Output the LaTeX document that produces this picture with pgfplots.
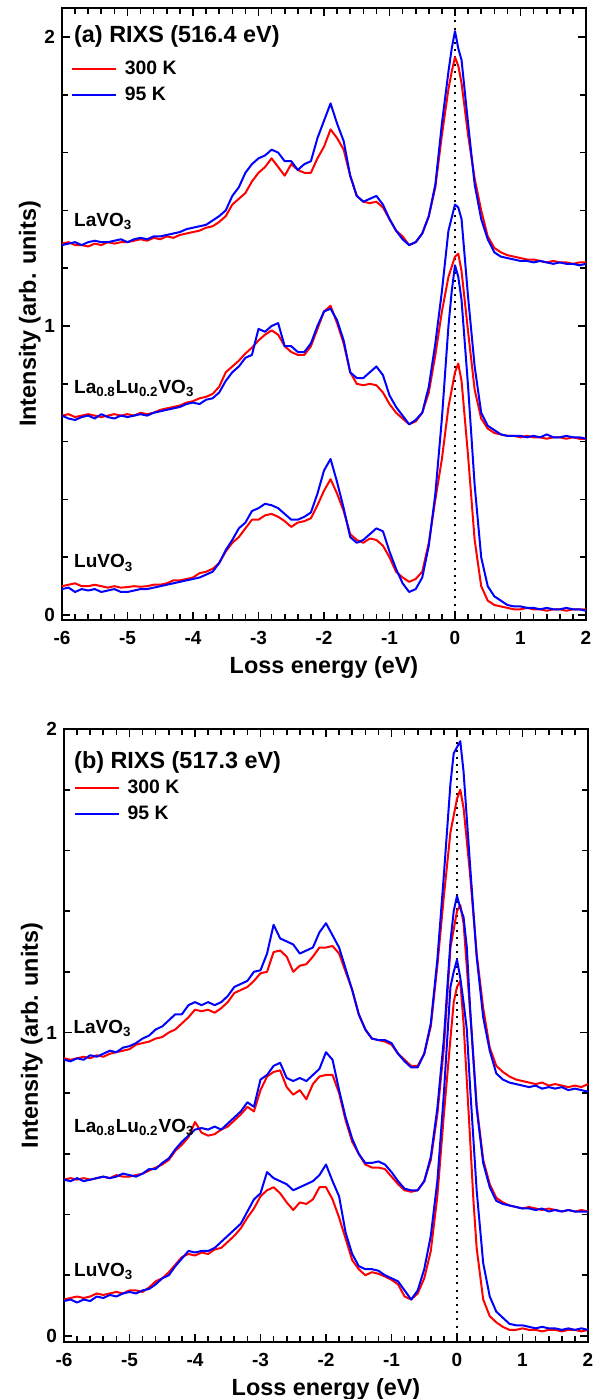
\documentclass[border=0pt]{standalone}
\usepackage{pgfplots}
\pgfplotsset{compat=1.18}
\usepackage{fontspec}
\setmainfont{Liberation Sans}
\newcommand\tkf{\fontsize{9.5}{11}\selectfont\bfseries}
\newcommand\labf{\fontsize{11.7}{14}\selectfont\bfseries}
\newcommand\lgf{\fontsize{9.7}{11}\selectfont\bfseries}
\newcommand\smpf{\fontsize{9.5}{11}\selectfont\bfseries}
\newcommand\subs[1]{\textsubscript{#1}}

\pgfplotsset{
  rixs/.style={
    scale only axis, width=262pt,
    xmin=-6, xmax=2, xtick={-6,-5,...,2}, minor x tick num=4,
    ytick={0,1,2}, minor y tick num=4,
    major tick length=4pt, minor tick length=2.8pt,
    tick style={line width=0.8pt, black},
    axis line style={line width=1pt},
    xlabel={Loss energy (eV)}, ylabel={Intensity (arb. units)},
    label style={font=\labf},
    ylabel shift=-5pt,
    ticklabel style={font=\tkf},
    xticklabel={\pgfmathprintnumber[assume math mode=true]{\tick}},
    yticklabel={\pgfmathprintnumber[assume math mode=true]{\tick}},
    xlabel style={yshift=1pt},
    xticklabel style={yshift=-2pt},
    legend style={draw=none, fill=none, font=\lgf, inner sep=0pt,
      row sep=2.5pt, nodes={inner sep=1pt, anchor=west},
      /tikz/every odd column/.append style={column sep=3pt}},
    legend cell align=left,
    legend image code/.code={\draw[##1, line width=1pt] (0pt,0pt) -- (22pt,0pt);},
  },
  rr/.style={red, line width=1pt, line join=round},
  bb/.style={blue, line width=1pt, line join=round},
  dotl/.style={black, line width=1pt, dash pattern=on 1pt off 2.6pt, forget plot},
}

\begin{document}
\begin{tikzpicture}
% ---------------- panel (a)
\begin{axis}[rixs, at={(0pt,0pt)}, anchor=north west, height=306pt,
  ymin=-0.017, ymax=2.10,
  legend style={at={(axis cs:-5.87,1.925)}, anchor=north west}]
\addplot[dotl] coordinates {(0,-0.017) (0,2.10)};
\addplot[rr] table {
-6.0 1.285
-5.9 1.29
-5.8 1.28
-5.7 1.28
-5.6 1.275
-5.5 1.285
-5.4 1.28
-5.3 1.29
-5.2 1.285
-5.1 1.29
-5.0 1.29
-4.9 1.295
-4.8 1.30
-4.7 1.295
-4.6 1.305
-4.5 1.30
-4.4 1.31
-4.3 1.305
-4.2 1.315
-4.1 1.32
-4.0 1.325
-3.9 1.33
-3.8 1.34
-3.7 1.345
-3.6 1.36
-3.5 1.38
-3.4 1.42
-3.3 1.44
-3.2 1.46
-3.1 1.50
-3.0 1.53
-2.9 1.55
-2.8 1.58
-2.7 1.55
-2.6 1.52
-2.5 1.56
-2.4 1.54
-2.3 1.53
-2.2 1.53
-2.1 1.58
-2.0 1.62
-1.9 1.68
-1.8 1.65
-1.7 1.61
-1.6 1.52
-1.5 1.45
-1.4 1.43
-1.3 1.425
-1.2 1.43
-1.1 1.41
-1.0 1.37
-0.9 1.33
-0.8 1.31
-0.7 1.28
-0.6 1.29
-0.5 1.32
-0.4 1.38
-0.3 1.48
-0.2 1.66
-0.1 1.82
-0.05 1.88
0.0 1.93
0.05 1.90
0.1 1.84
0.2 1.66
0.3 1.51
0.4 1.40
0.5 1.31
0.6 1.27
0.7 1.255
0.8 1.245
0.9 1.24
1.0 1.235
1.1 1.23
1.2 1.23
1.3 1.225
1.4 1.22
1.5 1.225
1.6 1.22
1.7 1.22
1.8 1.215
1.9 1.22
2.0 1.22
};
\addlegendentry{300 K}
\addplot[bb] table {
-6.0 1.28
-5.9 1.285
-5.8 1.29
-5.7 1.28
-5.6 1.29
-5.5 1.295
-5.4 1.29
-5.3 1.29
-5.2 1.295
-5.1 1.30
-5.0 1.29
-4.9 1.30
-4.8 1.305
-4.7 1.30
-4.6 1.31
-4.5 1.31
-4.4 1.315
-4.3 1.32
-4.2 1.325
-4.1 1.335
-4.0 1.34
-3.9 1.345
-3.8 1.35
-3.7 1.365
-3.6 1.38
-3.5 1.40
-3.4 1.45
-3.3 1.48
-3.2 1.53
-3.1 1.56
-3.0 1.58
-2.9 1.59
-2.8 1.61
-2.7 1.60
-2.6 1.57
-2.5 1.57
-2.4 1.54
-2.3 1.56
-2.2 1.57
-2.1 1.65
-2.0 1.71
-1.9 1.77
-1.8 1.70
-1.7 1.64
-1.6 1.52
-1.5 1.45
-1.4 1.43
-1.3 1.44
-1.2 1.45
-1.1 1.42
-1.0 1.37
-0.9 1.33
-0.8 1.30
-0.7 1.28
-0.6 1.29
-0.5 1.32
-0.4 1.38
-0.3 1.49
-0.2 1.70
-0.1 1.88
-0.05 1.96
0.0 2.02
0.05 1.96
0.1 1.92
0.2 1.70
0.3 1.49
0.4 1.37
0.5 1.30
0.6 1.255
0.7 1.24
0.8 1.235
0.9 1.23
1.0 1.225
1.1 1.225
1.2 1.22
1.3 1.225
1.4 1.22
1.5 1.215
1.6 1.22
1.7 1.215
1.8 1.215
1.9 1.21
2.0 1.215
};
\addlegendentry{95 K}
% La0.8Lu0.2VO3
\addplot[rr, forget plot] table {
-6.0 0.69
-5.9 0.695
-5.8 0.685
-5.7 0.69
-5.6 0.695
-5.5 0.69
-5.4 0.685
-5.3 0.69
-5.2 0.695
-5.1 0.69
-5.0 0.695
-4.9 0.69
-4.8 0.70
-4.7 0.695
-4.6 0.70
-4.5 0.71
-4.4 0.715
-4.3 0.72
-4.2 0.725
-4.1 0.735
-4.0 0.74
-3.9 0.75
-3.8 0.755
-3.7 0.765
-3.6 0.79
-3.5 0.84
-3.4 0.86
-3.3 0.88
-3.2 0.905
-3.1 0.925
-3.0 0.95
-2.9 0.97
-2.8 0.985
-2.7 0.97
-2.6 0.93
-2.5 0.91
-2.4 0.90
-2.3 0.90
-2.2 0.93
-2.1 0.99
-2.0 1.05
-1.9 1.07
-1.8 1.01
-1.7 0.94
-1.6 0.84
-1.5 0.80
-1.4 0.795
-1.3 0.80
-1.2 0.795
-1.1 0.77
-1.0 0.73
-0.9 0.70
-0.8 0.68
-0.7 0.66
-0.6 0.67
-0.5 0.70
-0.4 0.77
-0.3 0.90
-0.2 1.05
-0.1 1.17
0.0 1.24
0.05 1.25
0.1 1.19
0.2 0.98
0.3 0.78
0.4 0.68
0.5 0.645
0.6 0.63
0.7 0.625
0.8 0.62
0.9 0.62
1.0 0.615
1.1 0.62
1.2 0.615
1.3 0.615
1.4 0.61
1.5 0.615
1.6 0.615
1.7 0.61
1.8 0.615
1.9 0.61
2.0 0.61
};
\addplot[bb, forget plot] table {
-6.0 0.69
-5.9 0.68
-5.8 0.675
-5.7 0.685
-5.6 0.69
-5.5 0.68
-5.4 0.695
-5.3 0.685
-5.2 0.68
-5.1 0.69
-5.0 0.685
-4.9 0.69
-4.8 0.695
-4.7 0.69
-4.6 0.70
-4.5 0.705
-4.4 0.71
-4.3 0.715
-4.2 0.72
-4.1 0.73
-4.0 0.735
-3.9 0.73
-3.8 0.745
-3.7 0.75
-3.6 0.77
-3.5 0.81
-3.4 0.84
-3.3 0.86
-3.2 0.89
-3.1 0.90
-3.0 0.99
-2.9 0.98
-2.8 1.00
-2.7 1.01
-2.6 0.93
-2.5 0.93
-2.4 0.91
-2.3 0.91
-2.2 0.94
-2.1 1.00
-2.0 1.05
-1.9 1.06
-1.8 1.02
-1.7 0.95
-1.6 0.84
-1.5 0.82
-1.4 0.82
-1.3 0.84
-1.2 0.86
-1.1 0.83
-1.0 0.76
-0.9 0.72
-0.8 0.69
-0.7 0.66
-0.6 0.675
-0.5 0.70
-0.4 0.79
-0.3 0.94
-0.2 1.12
-0.1 1.33
0.0 1.42
0.05 1.41
0.1 1.37
0.2 1.10
0.3 0.86
0.4 0.70
0.5 0.655
0.6 0.64
0.7 0.625
0.8 0.62
0.9 0.62
1.0 0.62
1.1 0.615
1.2 0.62
1.3 0.615
1.4 0.625
1.5 0.615
1.6 0.615
1.7 0.62
1.8 0.615
1.9 0.615
2.0 0.61
};
% LuVO3
\addplot[rr, forget plot] table {
-6.0 0.10
-5.9 0.105
-5.8 0.11
-5.7 0.10
-5.6 0.10
-5.5 0.105
-5.4 0.10
-5.3 0.095
-5.2 0.10
-5.1 0.095
-5.0 0.097
-4.9 0.10
-4.8 0.098
-4.7 0.10
-4.6 0.105
-4.5 0.105
-4.4 0.11
-4.3 0.12
-4.2 0.12
-4.1 0.125
-4.0 0.13
-3.9 0.145
-3.8 0.15
-3.7 0.16
-3.6 0.18
-3.5 0.22
-3.4 0.25
-3.3 0.27
-3.2 0.30
-3.1 0.33
-3.0 0.33
-2.9 0.345
-2.8 0.35
-2.7 0.34
-2.6 0.325
-2.5 0.305
-2.4 0.32
-2.3 0.325
-2.2 0.335
-2.1 0.38
-2.0 0.43
-1.9 0.47
-1.8 0.42
-1.7 0.36
-1.6 0.28
-1.5 0.26
-1.4 0.25
-1.3 0.265
-1.2 0.26
-1.1 0.24
-1.0 0.20
-0.9 0.15
-0.8 0.13
-0.7 0.115
-0.6 0.125
-0.5 0.15
-0.4 0.25
-0.3 0.40
-0.2 0.54
-0.1 0.72
0.0 0.84
0.05 0.87
0.1 0.81
0.2 0.55
0.3 0.26
0.4 0.10
0.5 0.05
0.6 0.035
0.7 0.03
0.8 0.025
0.9 0.02
1.0 0.02
1.1 0.025
1.2 0.02
1.3 0.02
1.4 0.015
1.5 0.02
1.6 0.02
1.7 0.015
1.8 0.02
1.9 0.02
2.0 0.02
};
\addplot[bb, forget plot] table {
-6.0 0.09
-5.9 0.095
-5.8 0.08
-5.7 0.09
-5.6 0.085
-5.5 0.09
-5.4 0.08
-5.3 0.085
-5.2 0.09
-5.1 0.08
-5.0 0.08
-4.9 0.085
-4.8 0.09
-4.7 0.09
-4.6 0.095
-4.5 0.10
-4.4 0.105
-4.3 0.11
-4.2 0.115
-4.1 0.12
-4.0 0.125
-3.9 0.13
-3.8 0.14
-3.7 0.15
-3.6 0.18
-3.5 0.225
-3.4 0.26
-3.3 0.30
-3.2 0.32
-3.1 0.36
-3.0 0.37
-2.9 0.385
-2.8 0.38
-2.7 0.37
-2.6 0.35
-2.5 0.33
-2.4 0.33
-2.3 0.34
-2.2 0.355
-2.1 0.42
-2.0 0.50
-1.9 0.54
-1.8 0.46
-1.7 0.37
-1.6 0.27
-1.5 0.25
-1.4 0.26
-1.3 0.28
-1.2 0.30
-1.1 0.29
-1.0 0.22
-0.9 0.16
-0.8 0.11
-0.7 0.08
-0.6 0.09
-0.5 0.13
-0.4 0.24
-0.3 0.42
-0.2 0.68
-0.1 1.00
-0.05 1.12
0.0 1.21
0.05 1.17
0.1 1.09
0.2 0.79
0.3 0.45
0.4 0.20
0.5 0.10
0.6 0.065
0.7 0.05
0.8 0.035
0.9 0.03
1.0 0.03
1.1 0.025
1.2 0.025
1.3 0.02
1.4 0.025
1.5 0.02
1.6 0.02
1.7 0.025
1.8 0.02
1.9 0.02
2.0 0.015
};
\node[anchor=west, font=\labf, inner sep=0pt] at (axis cs:-5.82,2.0) {(a) RIXS (516.4 eV)};
\node[anchor=base west, font=\smpf, inner sep=0pt] at (axis cs:-5.82,1.343) {LaVO\subs{3}};
\node[anchor=base west, font=\smpf, inner sep=0pt] at (axis cs:-5.82,0.768) {La\subs{0.8}Lu\subs{0.2}VO\subs{3}};
\node[anchor=base west, font=\smpf, inner sep=0pt] at (axis cs:-5.82,0.163) {LuVO\subs{3}};
\end{axis}

% ---------------- panel (b)
\begin{axis}[rixs, at={(1pt,-360.5pt)}, anchor=north west, height=306.5pt,
  ymin=-0.02, ymax=2.0,
  legend style={at={(axis cs:-5.86,1.84)}, anchor=north west}]
\addplot[dotl] coordinates {(0,-0.02) (0,2.0)};
\addplot[rr] table {
-6.0 0.915
-5.9 0.91
-5.8 0.915
-5.7 0.92
-5.6 0.915
-5.5 0.925
-5.4 0.92
-5.3 0.93
-5.2 0.935
-5.1 0.94
-5.0 0.945
-4.9 0.96
-4.8 0.965
-4.7 0.97
-4.6 0.98
-4.5 0.985
-4.4 1.00
-4.3 1.01
-4.2 1.03
-4.1 1.05
-4.0 1.075
-3.9 1.07
-3.8 1.075
-3.7 1.065
-3.6 1.08
-3.5 1.10
-3.4 1.13
-3.3 1.14
-3.2 1.15
-3.1 1.17
-3.0 1.195
-2.9 1.20
-2.8 1.265
-2.7 1.27
-2.6 1.25
-2.5 1.20
-2.4 1.22
-2.3 1.225
-2.2 1.25
-2.1 1.28
-2.0 1.28
-1.9 1.285
-1.8 1.26
-1.7 1.20
-1.6 1.14
-1.5 1.06
-1.4 1.01
-1.3 0.98
-1.2 0.975
-1.1 0.97
-1.0 0.96
-0.9 0.93
-0.8 0.91
-0.7 0.89
-0.6 0.89
-0.5 0.93
-0.4 1.02
-0.3 1.22
-0.2 1.45
-0.1 1.66
0.0 1.77
0.05 1.80
0.1 1.74
0.2 1.52
0.3 1.26
0.4 1.08
0.5 0.95
0.6 0.89
0.7 0.87
0.8 0.855
0.9 0.845
1.0 0.84
1.1 0.835
1.2 0.83
1.3 0.835
1.4 0.825
1.5 0.83
1.6 0.825
1.7 0.82
1.8 0.825
1.9 0.82
2.0 0.83
};
\addlegendentry{300 K}
\addplot[bb] table {
-6.0 0.91
-5.9 0.905
-5.8 0.915
-5.7 0.91
-5.6 0.925
-5.5 0.92
-5.4 0.93
-5.3 0.94
-5.2 0.935
-5.1 0.95
-5.0 0.955
-4.9 0.965
-4.8 0.98
-4.7 0.99
-4.6 1.01
-4.5 1.02
-4.4 1.04
-4.3 1.06
-4.2 1.06
-4.1 1.09
-4.0 1.10
-3.9 1.09
-3.8 1.10
-3.7 1.09
-3.6 1.10
-3.5 1.12
-3.4 1.15
-3.3 1.16
-3.2 1.17
-3.1 1.20
-3.0 1.205
-2.9 1.26
-2.8 1.355
-2.7 1.31
-2.6 1.30
-2.5 1.29
-2.4 1.26
-2.3 1.27
-2.2 1.28
-2.1 1.33
-2.0 1.36
-1.9 1.32
-1.8 1.28
-1.7 1.21
-1.6 1.14
-1.5 1.06
-1.4 1.01
-1.3 0.98
-1.2 0.975
-1.1 0.975
-1.0 0.965
-0.9 0.93
-0.8 0.905
-0.7 0.885
-0.6 0.885
-0.5 0.93
-0.4 1.03
-0.3 1.24
-0.2 1.52
-0.1 1.82
-0.05 1.92
0.0 1.94
0.05 1.96
0.1 1.86
0.2 1.55
0.3 1.25
0.4 1.05
0.5 0.94
0.6 0.865
0.7 0.845
0.8 0.835
0.9 0.83
1.0 0.825
1.1 0.82
1.2 0.825
1.3 0.815
1.4 0.82
1.5 0.815
1.6 0.82
1.7 0.81
1.8 0.815
1.9 0.81
2.0 0.805
};
\addlegendentry{95 K}
% La0.8Lu0.2VO3
\addplot[rr, forget plot] table {
-6.0 0.515
-5.9 0.52
-5.8 0.515
-5.7 0.52
-5.6 0.515
-5.5 0.52
-5.4 0.525
-5.3 0.52
-5.2 0.53
-5.1 0.525
-5.0 0.525
-4.9 0.53
-4.8 0.535
-4.7 0.545
-4.6 0.555
-4.5 0.565
-4.4 0.58
-4.3 0.61
-4.2 0.63
-4.1 0.655
-4.0 0.705
-3.9 0.67
-3.8 0.66
-3.7 0.665
-3.6 0.68
-3.5 0.69
-3.4 0.71
-3.3 0.73
-3.2 0.755
-3.1 0.74
-3.0 0.81
-2.9 0.855
-2.8 0.87
-2.7 0.875
-2.6 0.82
-2.5 0.795
-2.4 0.81
-2.3 0.78
-2.2 0.83
-2.1 0.855
-2.0 0.86
-1.9 0.86
-1.8 0.80
-1.7 0.71
-1.6 0.64
-1.5 0.60
-1.4 0.565
-1.3 0.555
-1.2 0.555
-1.1 0.55
-1.0 0.525
-0.9 0.50
-0.8 0.48
-0.7 0.475
-0.6 0.48
-0.5 0.51
-0.4 0.58
-0.3 0.73
-0.2 0.95
-0.1 1.28
0.0 1.40
0.05 1.42
0.1 1.36
0.2 1.07
0.3 0.76
0.4 0.58
0.5 0.50
0.6 0.455
0.7 0.44
0.8 0.43
0.9 0.425
1.0 0.42
1.1 0.425
1.2 0.42
1.3 0.415
1.4 0.42
1.5 0.415
1.6 0.41
1.7 0.415
1.8 0.41
1.9 0.415
2.0 0.41
};
\addplot[bb, forget plot] table {
-6.0 0.515
-5.9 0.51
-5.8 0.52
-5.7 0.51
-5.6 0.515
-5.5 0.52
-5.4 0.525
-5.3 0.52
-5.2 0.525
-5.1 0.535
-5.0 0.53
-4.9 0.525
-4.8 0.535
-4.7 0.55
-4.6 0.55
-4.5 0.57
-4.4 0.585
-4.3 0.615
-4.2 0.64
-4.1 0.66
-4.0 0.68
-3.9 0.685
-3.8 0.68
-3.7 0.69
-3.6 0.68
-3.5 0.70
-3.4 0.72
-3.3 0.74
-3.2 0.77
-3.1 0.755
-3.0 0.845
-2.9 0.86
-2.8 0.89
-2.7 0.90
-2.6 0.85
-2.5 0.84
-2.4 0.85
-2.3 0.84
-2.2 0.86
-2.1 0.88
-2.0 0.935
-1.9 0.91
-1.8 0.81
-1.7 0.72
-1.6 0.65
-1.5 0.60
-1.4 0.57
-1.3 0.57
-1.2 0.575
-1.1 0.565
-1.0 0.54
-0.9 0.51
-0.8 0.485
-0.7 0.48
-0.6 0.48
-0.5 0.51
-0.4 0.59
-0.3 0.75
-0.2 0.98
-0.1 1.30
-0.05 1.40
0.0 1.45
0.05 1.41
0.1 1.38
0.15 1.28
0.2 1.08
0.3 0.75
0.4 0.57
0.5 0.49
0.6 0.445
0.7 0.435
0.8 0.43
0.9 0.425
1.0 0.42
1.1 0.42
1.2 0.415
1.3 0.42
1.4 0.41
1.5 0.415
1.6 0.41
1.7 0.415
1.8 0.41
1.9 0.41
2.0 0.41
};
% LuVO3
\addplot[rr, forget plot] table {
-6.0 0.12
-5.9 0.125
-5.8 0.13
-5.7 0.125
-5.6 0.13
-5.5 0.14
-5.4 0.135
-5.3 0.14
-5.2 0.145
-5.1 0.14
-5.0 0.15
-4.9 0.15
-4.8 0.145
-4.7 0.16
-4.6 0.18
-4.5 0.19
-4.4 0.21
-4.3 0.235
-4.2 0.26
-4.1 0.27
-4.0 0.265
-3.9 0.275
-3.8 0.27
-3.7 0.285
-3.6 0.29
-3.5 0.31
-3.4 0.33
-3.3 0.355
-3.2 0.39
-3.1 0.42
-3.0 0.46
-2.9 0.48
-2.8 0.49
-2.7 0.47
-2.6 0.44
-2.5 0.415
-2.4 0.44
-2.3 0.435
-2.2 0.45
-2.1 0.49
-2.0 0.49
-1.9 0.45
-1.8 0.39
-1.7 0.32
-1.6 0.25
-1.5 0.22
-1.4 0.20
-1.3 0.21
-1.2 0.205
-1.1 0.196
-1.0 0.185
-0.9 0.17
-0.8 0.13
-0.7 0.12
-0.6 0.14
-0.5 0.19
-0.4 0.28
-0.3 0.46
-0.2 0.73
-0.1 0.98
-0.05 1.10
0.0 1.15
0.05 1.17
0.1 1.03
0.15 0.84
0.2 0.65
0.25 0.45
0.3 0.29
0.4 0.12
0.5 0.065
0.6 0.045
0.7 0.03
0.8 0.02
0.9 0.02
1.0 0.025
1.1 0.02
1.2 0.02
1.3 0.015
1.4 0.02
1.5 0.02
1.6 0.015
1.7 0.02
1.8 0.02
1.9 0.015
2.0 0.02
};
\addplot[bb, forget plot] table {
-6.0 0.115
-5.9 0.12
-5.8 0.11
-5.7 0.12
-5.6 0.115
-5.5 0.13
-5.4 0.125
-5.3 0.135
-5.2 0.13
-5.1 0.14
-5.0 0.145
-4.9 0.14
-4.8 0.15
-4.7 0.155
-4.6 0.17
-4.5 0.19
-4.4 0.20
-4.3 0.23
-4.2 0.255
-4.1 0.28
-4.0 0.275
-3.9 0.28
-3.8 0.28
-3.7 0.29
-3.6 0.31
-3.5 0.33
-3.4 0.35
-3.3 0.37
-3.2 0.41
-3.1 0.45
-3.0 0.47
-2.9 0.54
-2.8 0.52
-2.7 0.51
-2.6 0.50
-2.5 0.48
-2.4 0.49
-2.3 0.50
-2.2 0.51
-2.1 0.53
-2.0 0.565
-1.9 0.51
-1.8 0.46
-1.7 0.34
-1.6 0.27
-1.5 0.23
-1.4 0.22
-1.3 0.22
-1.2 0.215
-1.1 0.20
-1.0 0.19
-0.9 0.18
-0.8 0.15
-0.7 0.12
-0.6 0.15
-0.5 0.22
-0.4 0.33
-0.3 0.51
-0.2 0.80
-0.1 1.15
-0.05 1.20
0.0 1.24
0.05 1.18
0.1 1.10
0.15 1.01
0.2 0.82
0.3 0.48
0.4 0.24
0.5 0.13
0.6 0.08
0.7 0.06
0.8 0.04
0.9 0.035
1.0 0.035
1.1 0.03
1.2 0.025
1.3 0.03
1.4 0.025
1.5 0.025
1.6 0.02
1.7 0.025
1.8 0.02
1.9 0.025
2.0 0.02
};
\node[anchor=west, font=\labf, inner sep=0pt] at (axis cs:-5.85,1.89) {(b) RIXS (517.3 eV)};
\node[anchor=base west, font=\smpf, inner sep=0pt] at (axis cs:-5.86,0.998) {LaVO\subs{3}};
\node[anchor=base west, font=\smpf, inner sep=0pt] at (axis cs:-5.85,0.672) {La\subs{0.8}Lu\subs{0.2}VO\subs{3}};
\node[anchor=base west, font=\smpf, inner sep=0pt] at (axis cs:-5.85,0.195) {LuVO\subs{3}};
\end{axis}
\pgfresetboundingbox
\path[use as bounding box] (-31pt,4pt) rectangle (269.5pt,-695.5pt);
\end{tikzpicture}
\end{document}
